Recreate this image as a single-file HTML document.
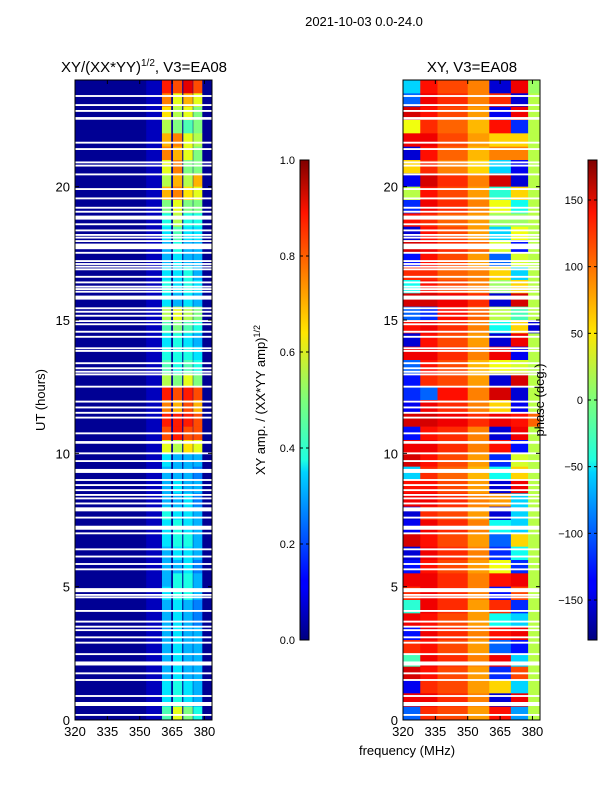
<!DOCTYPE html>
<html><head><meta charset="utf-8">
<style>
body{margin:0;background:#fff;}
svg text{font-family:"Liberation Sans","DejaVu Sans",sans-serif;fill:#000;}
</style></head>
<body>
<svg id="chart" xmlns="http://www.w3.org/2000/svg" width="600" height="800" viewBox="0 0 600 800">
<defs>
<linearGradient id="jet" x1="0" y1="1" x2="0" y2="0">
<stop offset="0" stop-color="#000080"/><stop offset="0.11" stop-color="#0000ff"/>
<stop offset="0.125" stop-color="#0000ff"/><stop offset="0.35" stop-color="#00d4ff"/>
<stop offset="0.375" stop-color="#1fffe0"/><stop offset="0.5" stop-color="#7dff7a"/>
<stop offset="0.64" stop-color="#ffe600"/><stop offset="0.89" stop-color="#ff1300"/>
<stop offset="1" stop-color="#800000"/>
</linearGradient>
</defs>
<text x="364" y="26" font-size="13" text-anchor="middle">2021-10-03 0.0-24.0</text>
<g id="ampPanel"></g>
<g id="phasePanel"></g>
<text x="144" y="72" font-size="15" text-anchor="middle">XY/(XX*YY)<tspan font-size="10" dy="-6">1/2</tspan><tspan dy="6">, V3=EA08</tspan></text>
<text x="472" y="72" font-size="15" text-anchor="middle">XY, V3=EA08</text>
<text transform="translate(45,400) rotate(-90)" font-size="13" text-anchor="middle">UT (hours)</text>
<text x="407" y="755" font-size="13" text-anchor="middle">frequency (MHz)</text>
<rect x="300" y="160" width="9" height="480" fill="url(#jet)" stroke="#000" stroke-width="1"/>
<rect x="588" y="160" width="9" height="480" fill="url(#jet)" stroke="#000" stroke-width="1"/>
<g id="cb1"></g>
<g id="cb2"></g>
<text transform="translate(265,400) rotate(-90)" font-size="13" text-anchor="middle">XY amp. / (XX*YY amp)<tspan font-size="9" dy="-5">1/2</tspan></text>
<text transform="translate(544,400) rotate(-90)" font-size="13" text-anchor="middle">phase (deg.)</text>
</svg>
<script>
// ---- data ----
const timeTicks=[0,5,10,15,20];
const freqTicks=[320,335,350,365,380];
const ampTicks=[0.0,0.2,0.4,0.6,0.8,1.0];
const phaseTicks=[-150,-100,-50,0,50,100,150];
const ampBandEdges=[[360.3,364.6],[365.4,369.7],[370.2,374.6],[374.8,379.0]];
const ampBackground=0.02;
// amp rows top-down, 0.5h each (24h -> 0h), 4 bands
const ampRows=[
[0.85,0.8,0.9,0.8],[0.75,0.6,0.7,0.6],[0.65,0.55,0.6,0.5],[0.55,0.5,0.45,0.5],
[0.7,0.75,0.6,0.55],[0.75,0.7,0.6,0.5],[0.6,0.75,0.5,0.5],[0.55,0.7,0.55,0.7],
[0.7,0.75,0.65,0.6],[0.5,0.6,0.5,0.5],[0.4,0.55,0.4,0.4],[0.35,0.45,0.35,0.35],
[0.3,0.4,0.3,0.3],[0.3,0.35,0.3,0.3],[0.35,0.35,0.4,0.3],[0.4,0.35,0.4,0.35],
[0.35,0.3,0.35,0.3],[0.55,0.6,0.55,0.5],[0.45,0.5,0.45,0.4],[0.35,0.4,0.35,0.3],
[0.4,0.4,0.4,0.35],[0.45,0.4,0.45,0.4],[0.55,0.5,0.6,0.5],[0.85,0.8,0.85,0.8],
[0.75,0.7,0.8,0.7],[0.85,0.85,0.85,0.8],[0.8,0.85,0.8,0.8],[0.6,0.55,0.65,0.6],
[0.35,0.3,0.3,0.3],[0.3,0.3,0.3,0.25],[0.3,0.35,0.3,0.3],[0.3,0.3,0.35,0.25],
[0.4,0.35,0.35,0.3],[0.35,0.4,0.35,0.3],[0.35,0.4,0.4,0.3],[0.3,0.35,0.35,0.3],
[0.3,0.3,0.35,0.25],[0.3,0.4,0.4,0.3],[0.35,0.4,0.4,0.3],[0.3,0.35,0.3,0.25],
[0.3,0.35,0.3,0.25],[0.3,0.35,0.3,0.3],[0.3,0.35,0.3,0.3],[0.3,0.35,0.3,0.3],
[0.3,0.35,0.3,0.3],[0.35,0.4,0.35,0.3],[0.35,0.4,0.35,0.3],[0.45,0.6,0.5,0.4]];
const phaseColEdges=[320,328,336,350,360,370,378,383.5];
// phase rows top-down, 0.5h each
const phaseRows=[
[-60,130,110,90,-150,140,10],[-100,140,120,90,120,-150,20],[150,130,110,80,-140,140,20],[40,120,100,70,130,-120,20],
[140,140,110,80,60,60,20],[-150,130,100,70,90,90,20],[60,120,90,60,-60,-140,20],[-140,150,120,90,150,-150,20],
[20,130,110,80,-30,60,20],[-120,140,120,90,40,-40,20],[130,120,100,80,10,10,20],[-150,130,110,80,-60,40,20],
[150,140,120,100,30,-130,20],[-130,130,110,80,-100,30,20],[120,120,100,90,60,-60,20],[-40,130,110,90,10,60,20],
[150,150,140,120,-150,150,20],[-100,-120,130,100,20,-20,20],[130,140,120,90,-40,60,-150],[-150,130,110,80,-150,140,20],
[140,140,120,90,140,-140,20],[-100,130,110,70,40,30,20],[-130,120,110,80,-150,150,20],[-120,-100,130,90,150,-150,20],
[-140,140,120,90,60,-140,20],[150,150,140,120,140,130,100],[-130,130,120,90,-150,140,20],[140,140,120,90,130,-130,20],
[150,130,110,80,-120,30,20],[-60,120,100,70,-40,60,20],[130,130,110,80,-150,140,20],[140,140,120,90,80,-60,20],
[-150,120,110,80,-150,-60,20],[-140,140,120,90,-40,-60,20],[150,130,110,80,-100,60,20],[-150,140,120,90,-120,-40,20],
[-130,130,110,80,40,-120,20],[140,140,120,90,130,140,20],[120,140,120,90,-130,110,20],[-30,140,120,80,120,-120,20],
[140,130,110,80,-40,-60,20],[-130,140,120,90,130,140,20],[120,130,110,80,-100,-130,20],[-20,140,120,90,140,-60,20],
[150,130,110,80,-120,110,20],[-140,120,110,80,60,-60,20],[140,140,120,90,-150,140,20],[-100,120,110,80,130,-80,20]];
// flagged time stripes (hours) and widths (hours)
const gapTimes=[23.4,23.06,22.84,22.56,21.65,21.41,20.91,20.79,20.46,19.91,19.56,19.21,19.06,18.84,18.59,18.36,18.19,18.09,17.96,17.79,17.69,17.52,17.21,17.1,17.0,16.9,16.62,16.41,16.25,16.16,16.06,15.84,15.44,15.31,15.16,14.96,14.84,14.56,14.37,13.94,13.84,13.38,13.19,13.06,12.96,12.5,11.94,11.72,11.52,11.34,10.75,10.41,10.0,9.71,9.34,9.0,8.81,8.62,8.44,8.31,8.12,7.9,7.59,7.21,7.0,6.4,6.13,5.85,5.65,4.87,4.69,4.6,4.09,3.69,3.5,3.37,3.1,2.9,2.47,2.12,1.75,1.5,0.9,0.6,0.19];
const gapWidths=[0.07,0.07,0.07,0.1,0.07,0.07,0.07,0.07,0.07,0.07,0.07,0.07,0.07,0.15,0.07,0.07,0.07,0.07,0.07,0.15,0.07,0.07,0.07,0.07,0.07,0.07,0.07,0.07,0.07,0.07,0.07,0.15,0.07,0.07,0.07,0.07,0.07,0.07,0.07,0.07,0.07,0.07,0.07,0.07,0.07,0.07,0.07,0.07,0.07,0.07,0.07,0.1,0.07,0.07,0.15,0.07,0.07,0.07,0.07,0.07,0.07,0.15,0.07,0.15,0.07,0.07,0.07,0.07,0.07,0.15,0.07,0.07,0.07,0.07,0.07,0.07,0.07,0.07,0.07,0.15,0.07,0.07,0.07,0.15,0.07];

// ---- helpers ----
const NS='http://www.w3.org/2000/svg';
function mk(tag,attrs,parent){const e=document.createElementNS(NS,tag);for(const k in attrs)e.setAttribute(k,attrs[k]);parent.appendChild(e);return e;}
function jet(v){v=Math.max(0,Math.min(1,v));
 const r=Math.max(0,Math.min(1,1.5-Math.abs(4*v-3)));
 const g=Math.max(0,Math.min(1,1.5-Math.abs(4*v-2)));
 const b=Math.max(0,Math.min(1,1.5-Math.abs(4*v-1)));
 return `rgb(${Math.round(r*255)},${Math.round(g*255)},${Math.round(b*255)})`;}
const Y0=80,Y1=720,T0=0,T1=24,F0=320,F1=383.5,W=137;
function yScale(t){return Y1-(t-T0)/(T1-T0)*(Y1-Y0);}
function xScale(f,x0){return x0+(f-F0)/(F1-F0)*W;}

function drawAxes(g,x0,name){
 mk('rect',{x:x0,y:Y0,width:W,height:Y1-Y0,fill:'none',stroke:'#000','stroke-width':1},g);
 timeTicks.forEach(t=>{const y=yScale(t);
  const tk=mk('line',{x1:x0,x2:x0+4,y1:y,y2:y,stroke:'#000'},g);
  
  
  mk('line',{x1:x0+W,x2:x0+W-4,y1:y,y2:y,stroke:'#000'},g);
  const l=mk('text',{x:x0-5,y:y+5,'font-size':13,'text-anchor':'end'},g);l.textContent=t;
  
  });
 freqTicks.forEach(f=>{const x=xScale(f,x0);
  mk('line',{x1:x,x2:x,y1:Y1,y2:Y1-4,stroke:'#000'},g);
  mk('line',{x1:x,x2:x,y1:Y0,y2:Y0+4,stroke:'#000'},g);
  const l=mk('text',{x:x,y:Y1+16,'font-size':13,'text-anchor':'middle'},g);l.textContent=f;
  
  });
}
function drawGaps(g,x0){
 gapTimes.forEach((t,i)=>{const w=gapWidths[i];
  const r=mk('rect',{x:x0,y:yScale(t+w/2),width:W,height:yScale(t-w/2)-yScale(t+w/2),fill:'#fff'},g);
  
  });
}
// amp panel
(function(){const g=document.getElementById('ampPanel');const x0=75;
 mk('rect',{x:x0,y:Y0,width:W,height:Y1-Y0,fill:jet(ampBackground)},g);
 mk('rect',{x:xScale(353,x0),y:Y0,width:xScale(360,x0)-xScale(353,x0),height:Y1-Y0,fill:jet(0.1),opacity:0.5},g);
 const n=ampRows.length,dt=(T1-T0)/n;
 ampRows.forEach((row,i)=>{const tTop=T1-i*dt;
  row.forEach((v,j)=>{const e=ampBandEdges[j];
   const c=mk('rect',{x:xScale(e[0],x0),y:yScale(tTop),width:xScale(e[1],x0)-xScale(e[0],x0),height:yScale(tTop-dt)-yScale(tTop)+0.3,fill:jet(v)},g);
   
   });});
 drawGaps(g,x0);drawAxes(g,x0,'amp');})();
// phase panel
(function(){const g=document.getElementById('phasePanel');const x0=403;
 const n=phaseRows.length,dt=(T1-T0)/n;
 phaseRows.forEach((row,i)=>{const tTop=T1-i*dt;
  row.forEach((v,j)=>{const a=phaseColEdges[j],b=phaseColEdges[j+1];
   const c=mk('rect',{x:xScale(a,x0),y:yScale(tTop),width:xScale(b,x0)-xScale(a,x0)+0.3,height:yScale(tTop-dt)-yScale(tTop)+0.3,fill:jet((v+180)/360)},g);
   
   });});
 drawGaps(g,x0);drawAxes(g,x0,'phase');})();
// colorbar ticks
(function(){const g1=document.getElementById('cb1');
 ampTicks.forEach(v=>{const y=640-v*480;
  mk('line',{x1:300,x2:303,y1:y,y2:y,stroke:'#000'},g1);mk('line',{x1:309,x2:306,y1:y,y2:y,stroke:'#000'},g1);
  const l=mk('text',{x:295,y:y+4,'font-size':11,'text-anchor':'end'},g1);l.textContent=v.toFixed(1);
  
  });
 const g2=document.getElementById('cb2');
 phaseTicks.forEach(v=>{const y=640-(v+180)/360*480;
  mk('line',{x1:588,x2:591,y1:y,y2:y,stroke:'#000'},g2);mk('line',{x1:597,x2:594,y1:y,y2:y,stroke:'#000'},g2);
  const l=mk('text',{x:583,y:y+4,'font-size':11,'text-anchor':'end'},g2);l.textContent=v<0?'\u2212'+(-v):v;
  
  });})();
</script>
</body></html>
